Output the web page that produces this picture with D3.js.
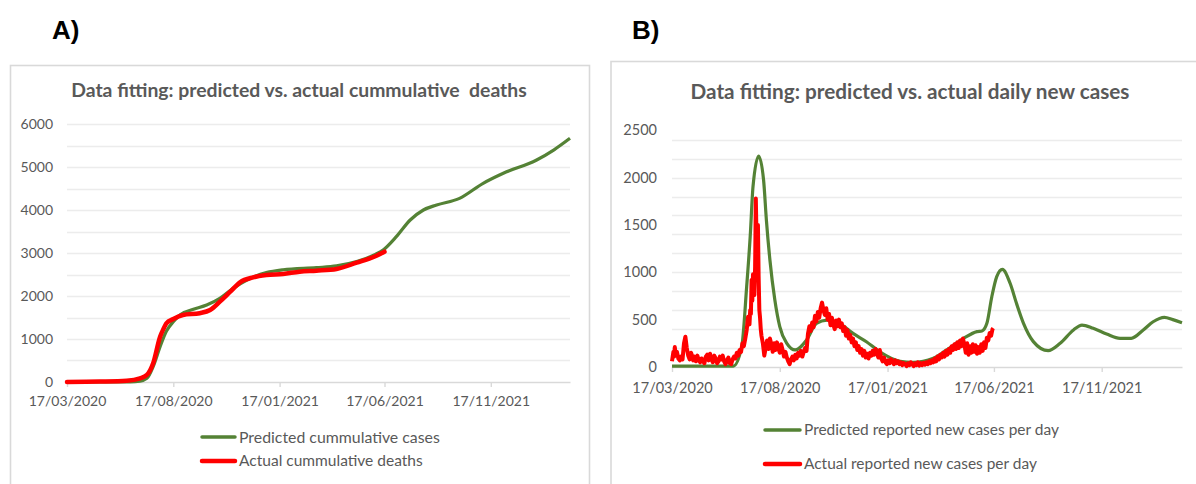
<!DOCTYPE html>
<html><head><meta charset="utf-8">
<script src="https://cdn.jsdelivr.net/npm/d3@7"></script>
<style>
body{margin:0;background:#fff}
text{font-family:Lato,"Open Sans",sans-serif}
</style>
</head><body>
<svg id="c" width="1196" height="484"></svg>
<script>
// ---------------- DATA ----------------
const startDate = "2020-03-17";
const endDate = "2022-03-11";
const xTickLabels = ["17/03/2020","17/08/2020","17/01/2021","17/06/2021","17/11/2021"];

const deathsTickValues = [0,1000,2000,3000,4000,5000,6000];
const deathsGridValues = [500,1000,1500,2000,2500,3000,3500,4000,4500,5000,5500,6000];
const casesTickValues = [0,500,1000,1500,2000,2500];
const casesGridValues = [200,400,600,800,1000,1200,1400,1600,1800,2000,2200,2400];

// Panel A: predicted cumulative (green)
const predCumDates = ["2020-03-17","2020-06-16","2020-06-30","2020-07-10","2020-07-19","2020-07-29","2020-08-07","2020-08-17","2020-08-27","2020-09-15","2020-10-04","2020-10-23","2020-11-11","2020-12-01","2020-12-29","2021-01-22","2021-03-11","2021-04-09","2021-05-08","2021-06-03","2021-06-15","2021-07-04","2021-07-24","2021-08-12","2021-08-31","2021-10-03","2021-11-06","2021-12-05","2022-01-22","2022-02-16","2022-03-11"];
const predCumValues = [0,5,20,85,357,822,1180,1400,1566,1690,1790,1946,2178,2372,2543,2610,2660,2700,2800,2960,3070,3380,3767,4000,4116,4271,4620,4853,5163,5400,5667];

// Panel A: actual cumulative deaths (red)
const actualCumDates = ["2020-03-17","2020-05-03","2020-06-11","2020-06-30","2020-07-10","2020-07-19","2020-07-29","2020-08-03","2020-08-07","2020-08-17","2020-08-31","2020-09-24","2020-10-09","2020-10-23","2020-11-07","2020-11-21","2020-12-10","2020-12-29","2021-01-22","2021-02-15","2021-03-11","2021-04-09","2021-05-08","2021-06-03","2021-06-17"];
const actualCumValues = [0,10,30,85,163,434,1054,1240,1364,1465,1558,1600,1674,1868,2100,2318,2434,2488,2512,2566,2589,2628,2775,2920,3031];

// Panel B: predicted daily reported cases (green)
const predDailyDates = ["2020-03-17","2020-04-26","2020-06-12","2020-06-24","2020-07-01","2020-07-06","2020-07-10","2020-07-18","2020-07-25","2020-07-29","2020-08-03","2020-08-10","2020-08-17","2020-08-27","2020-09-08","2020-09-24","2020-10-08","2020-10-23","2020-11-10","2020-11-29","2020-12-18","2021-01-06","2021-02-04","2021-02-22","2021-03-23","2021-04-11","2021-05-05","2021-05-24","2021-05-31","2021-06-07","2021-06-14","2021-06-21","2021-06-29","2021-07-10","2021-07-19","2021-07-29","2021-08-12","2021-09-02","2021-09-19","2021-10-08","2021-10-20","2021-11-05","2021-11-24","2021-12-13","2021-12-29","2022-01-15","2022-01-29","2022-02-14","2022-02-26","2022-03-11"];
const predDailyValues = [10,10,10,214,848,1376,1904,2228,1975,1552,1130,707,426,250,180,285,461,496,460,355,267,161,60,50,92,180,303,373,380,461,742,954,1031,884,673,461,268,172,250,391,443,408,348,303,303,391,478,525,500,468];

// Panel B: actual daily reported cases (red); day offsets from 17/03/2020
const actualDailyDays = [0,2,3,4,5,7,9,11,13,15,17,19,21,23,25,27,
 28,30,32,34,36,38,40,42,44,46,48,50,52,54,56,58,60,62,64,66,68,70,72,74,76,78,80,82,84,86,88,90,92,94,96,98,100,102,104,106,108,110,
 111,112,113,114,115,116,117,118,119,120,121,122,123,124,125,126,127,
 129,131,133,135,137,139,141,143,145,147,
 149,151,153,155,157,159,161,163,165,167,
 169,171,173,175,177,179,181,183,185,187,
 189,191,193,195,197,199,201,203,205,207,
 209,211,213,215,217,219,221,223,225,227,
 229,231,233,235,237,239,241,243,245,247,
 249,251,253,255,257,259,261,263,265,267,
 269,271,273,275,277,279,281,283,285,287,
 289,291,293,295,297,299,301,303,305,307,
 309,311,313,315,317,319,321,323,325,327,
 329,331,333,335,337,339,341,343,345,347,
 349,351,353,355,357,359,361,363,365,367,
 369,371,373,375,377,379,381,383,385,387,
 389,391,393,395,397,399,401,403,405,407,
 409,411,413,415,417,419,421,423,425,427,
 429,431,433,435,437,439,441,443,445,447,
 449,451,453,455,456];
const actualDailyCases = [60,160,110,210,140,160,90,70,110,80,250,320,200,120,80,150,
 130,70,110,60,120,70,50,90,60,40,110,130,70,140,80,50,120,90,40,60,110,80,120,60,30,70,100,40,30,80,110,90,150,120,180,160,250,220,300,390,530,450,
 600,560,920,700,980,880,760,1060,1780,1350,1240,1500,950,600,520,400,330,
 250,120,200,280,190,300,240,160,250,180,
 260,200,150,240,180,110,160,100,60,30,
 80,110,70,130,90,150,120,170,110,160,
 200,170,350,430,380,470,420,540,480,580,
 520,620,680,600,550,620,500,560,440,520,
 450,400,490,430,500,420,460,380,420,330,
 390,300,340,260,300,220,260,180,220,150,
 190,120,170,100,140,90,150,120,170,130,
 190,140,100,180,90,60,100,50,30,70,
 40,80,60,30,70,40,60,30,50,20,
 40,30,10,40,20,50,30,10,40,20,
 50,15,40,20,45,25,50,30,60,40,
 70,50,90,60,110,80,130,100,150,110,
 170,130,190,150,220,180,240,190,260,200,
 280,220,300,240,150,250,130,220,150,240,
 160,230,140,210,150,240,170,260,200,310,
 280,360,330,400,410];

// ---------------- DRAW ----------------
const GREEN = "#548235", RED = "#ff0000", TXT = "#595959", AXIS = "#d9d9d9", GRID = "#ececec", FRAME = "#d9d9d9";
const svg = d3.select("#c");
const parse = d3.timeParse("%Y-%m-%d");
const parseTick = d3.timeParse("%d/%m/%Y");
const fmtTick = d3.timeFormat("%d/%m/%Y");
const t0 = parse(startDate);

svg.append("rect").attr("width",1196).attr("height",484).attr("fill","#fff");

function fitWidth(sel, w){
  sel.each(function(){
    const L = this.getComputedTextLength();
    const fs = parseFloat(d3.select(this).style("font-size"));
    d3.select(this).style("font-size", (fs * w / L) + "px");
  });
}

function panel(cfg){
  const g = svg.append("g");
  g.append("rect").attr("x",cfg.fx).attr("y",cfg.fy).attr("width",cfg.fw).attr("height",600)
    .attr("fill","#fff").attr("stroke",FRAME).attr("stroke-width",1.6);

  g.append("text").attr("x",cfg.lx).attr("y",39).text(cfg.letter)
    .style("font-family","'Liberation Sans',Arial,sans-serif").style("font-weight","bold")
    .style("font-size","26px").attr("fill","#000");

  const title = g.append("text").attr("x",cfg.tx).attr("y",cfg.ty).attr("text-anchor","middle")
    .style("font-weight","bold").style("font-size","18px").attr("fill",TXT).text(cfg.title);
  fitWidth(title, cfg.tw);

  const x = d3.scaleTime().domain([t0, parse(endDate)]).range([cfg.x0, cfg.x1]);
  const y = d3.scaleLinear().domain([0, cfg.ymax]).range([cfg.y0, cfg.y0 - cfg.ymax * cfg.pxPerUnit]);

  g.append("g").selectAll("line").data(cfg.grid).join("line")
    .attr("x1",cfg.x0).attr("x2",cfg.x1).attr("y1",d=>Math.round(y(d))+0.5).attr("y2",d=>Math.round(y(d))+0.5)
    .attr("stroke",GRID).attr("stroke-width",1.3);

  const ya = g.append("g").attr("transform",`translate(${cfg.x0},0)`)
    .call(d3.axisLeft(y).tickValues(cfg.yTicks).tickSize(0).tickPadding(cfg.yPad).tickFormat(d3.format("d")));
  ya.select(".domain").remove();
  ya.selectAll("text").attr("fill",TXT).style("font-size",cfg.tickFont+"px").style("font-family","Lato,sans-serif");

  const xa = g.append("g").attr("transform",`translate(0,${cfg.y0})`)
    .call(d3.axisBottom(x).tickValues(xTickLabels.map(parseTick)).tickFormat(fmtTick)
      .tickSize(5).tickSizeOuter(0).tickPadding(cfg.xPad));
  xa.select(".domain").attr("stroke",AXIS).attr("stroke-width",1.4);
  xa.selectAll(".tick line").attr("stroke",AXIS).attr("stroke-width",1.4);
  xa.selectAll("text").attr("fill",TXT).style("font-size",cfg.tickFont+"px").style("font-family","Lato,sans-serif");

  return {g,x,y};
}

// Panel A
const A = panel({fx:10.5, fy:65.5, fw:579, lx:52, letter:"A)",
  title:"Data fitting: predicted vs. actual cummulative\u00a0 deaths", tx:299, ty:97, tw:456,
  x0:67, x1:570, y0:382, ymax:6000, pxPerUnit:0.043, grid:deathsGridValues, yTicks:deathsTickValues,
  yPad:14, xPad:9, tickFont:14});

const lineCum = d3.line().x(d=>A.x(d[0])).y(d=>A.y(d[1])).curve(d3.curveMonotoneX);
A.g.append("path").datum(predCumDates.map((d,i)=>[parse(d),predCumValues[i]]))
  .attr("d",lineCum).attr("fill","none").attr("stroke",GREEN).attr("stroke-width",3.2).attr("stroke-linejoin","round");
A.g.append("path").datum(actualCumDates.map((d,i)=>[parse(d),actualCumValues[i]]))
  .attr("d",lineCum).attr("fill","none").attr("stroke",RED).attr("stroke-width",4.5).attr("stroke-linejoin","round").attr("stroke-linecap","round");

// Panel B
const B = panel({fx:611, fy:61.5, fw:700, lx:632, letter:"B)",
  title:"Data fitting: predicted vs. actual daily new cases", tx:910, ty:99, tw:439,
  x0:672, x1:1182, y0:367, ymax:2500, pxPerUnit:0.0947, grid:casesGridValues, yTicks:casesTickValues,
  yPad:15, xPad:11, tickFont:14.5});

const lineDailyPred = d3.line().x(d=>B.x(d[0])).y(d=>B.y(d[1])).curve(d3.curveMonotoneX);
B.g.append("path").datum(predDailyDates.map((d,i)=>[parse(d),predDailyValues[i]]))
  .attr("d",lineDailyPred).attr("fill","none").attr("stroke",GREEN).attr("stroke-width",3.2).attr("stroke-linejoin","round");
const lineDailyAct = d3.line().x(d=>B.x(d[0])).y(d=>B.y(d[1]));
B.g.append("path").datum(actualDailyDays.map((d,i)=>[d3.timeDay.offset(t0,d),actualDailyCases[i]]))
  .attr("d",lineDailyAct).attr("fill","none").attr("stroke",RED).attr("stroke-width",4).attr("stroke-linejoin","round");

// Legends
function legend(g, x1, x2, tx, rows){
  rows.forEach(r=>{
    g.append("line").attr("x1",x1).attr("x2",x2).attr("y1",r.y).attr("y2",r.y)
      .attr("stroke",r.color).attr("stroke-width",r.sw).attr("stroke-linecap","round");
    const t = g.append("text").attr("x",tx).attr("y",r.y).attr("dy","0.35em").attr("fill",TXT)
      .style("font-size","15px").text(r.label);
    fitWidth(t, r.w);
  });
}
legend(A.g, 202, 235, 239, [
  {y:437, color:GREEN, sw:3.5, label:"Predicted cummulative cases", w:201},
  {y:461, color:RED, sw:4.5, label:"Actual cummulative deaths", w:184}]);
legend(B.g, 765, 800, 804, [
  {y:430, color:GREEN, sw:3.5, label:"Predicted reported new cases per day", w:255},
  {y:464, color:RED, sw:4.5, label:"Actual reported new cases per day", w:233}]);
</script>
</body></html>
